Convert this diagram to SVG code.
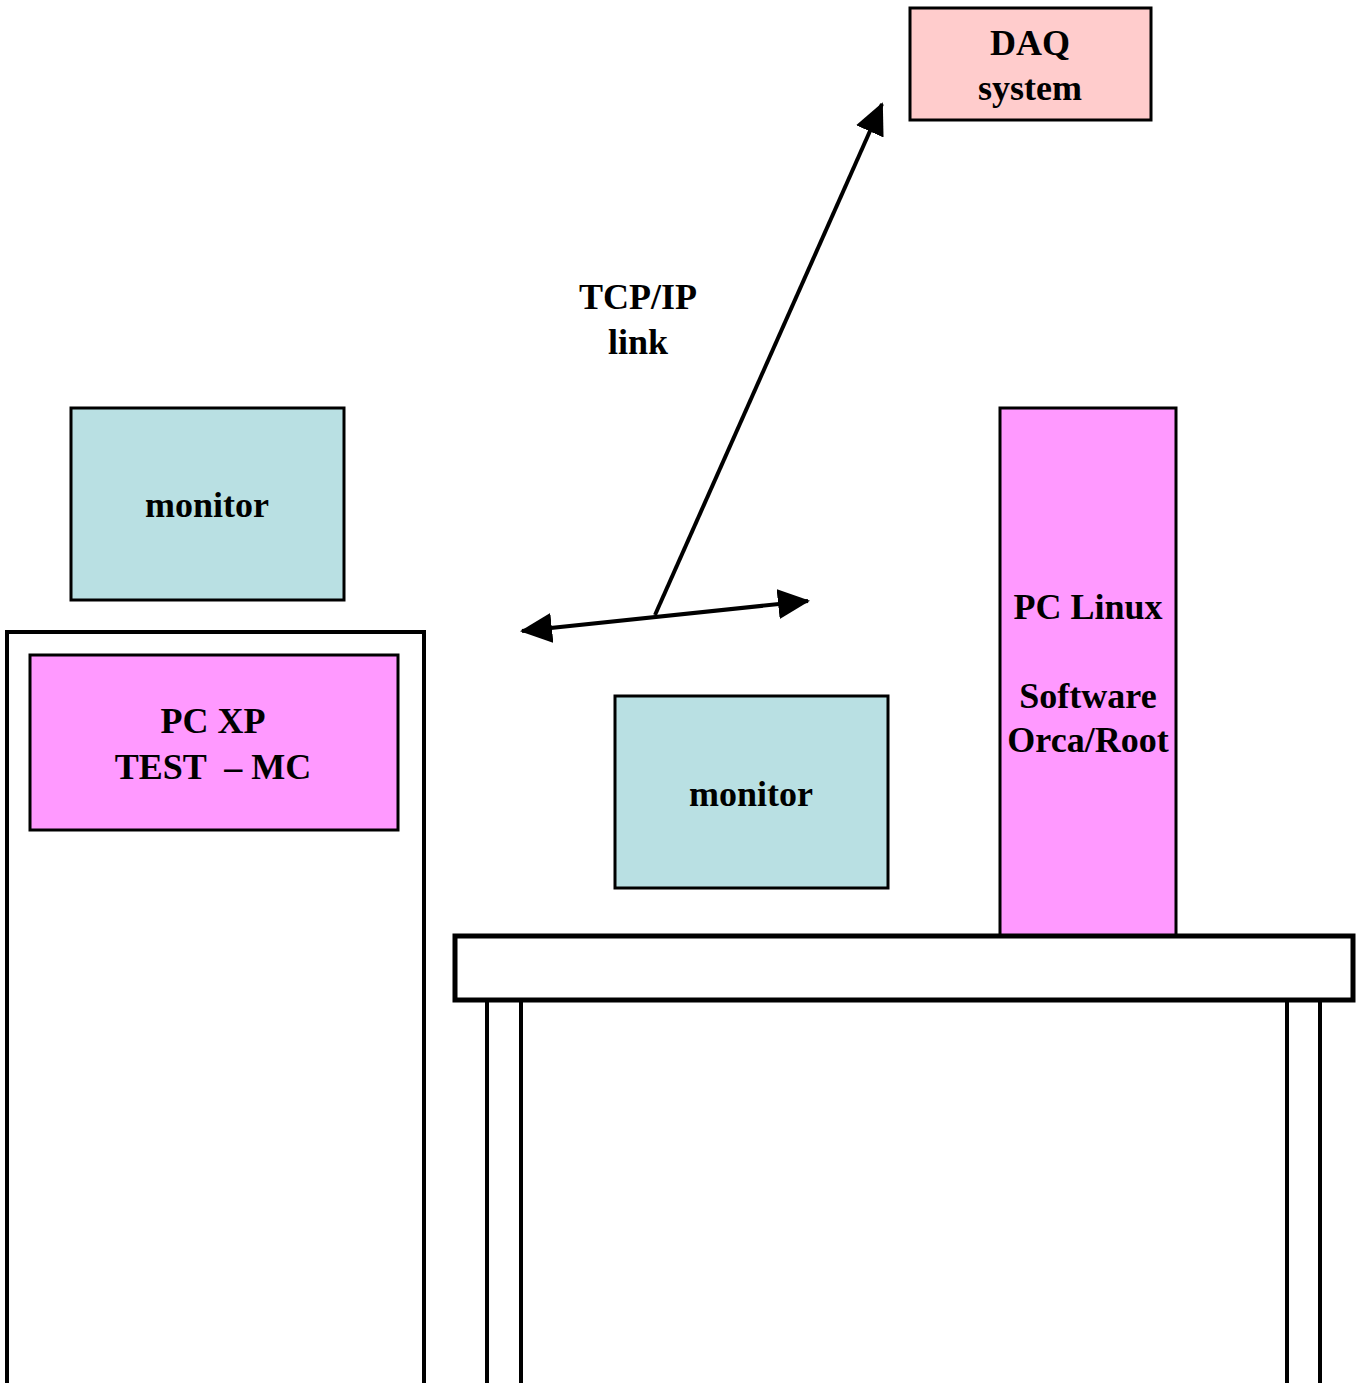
<svg xmlns="http://www.w3.org/2000/svg" width="1364" height="1383" viewBox="0 0 1364 1383">
<style>
.box{stroke:#000;stroke-width:3}
.mon{fill:#B9E0E3}
.pc{fill:#FF99FF}
.daq{fill:#FFCCCC}
.frame{fill:#fff;stroke:#000;stroke-width:4}
text{font-family:"Liberation Serif","Times New Roman",serif;font-weight:bold;font-size:36px;text-anchor:middle;fill:#000}
.conn{stroke:#000;stroke-width:4;fill:none}
</style>
<defs>
<marker id="ah" viewBox="0 0 32 30" refX="30" refY="15" markerWidth="32" markerHeight="30" markerUnits="userSpaceOnUse" orient="auto-start-reverse">
<path d="M0,0 L32,15 L0,30 Z" fill="#000"/>
</marker>
</defs>
<rect width="1364" height="1383" fill="#fff"/>
<g id="pcxp-cabinet"><rect class="frame" x="7" y="632" width="417" height="760"/></g>
<g id="pcxp"><rect class="box pc" x="30" y="655" width="368" height="175"/><text x="213" y="733">PC XP</text><text x="213" y="779" xml:space="preserve">TEST  – MC</text></g>
<g id="monitor1"><rect class="box mon" x="71" y="408" width="273" height="192"/><text x="207" y="517">monitor</text></g>
<g id="daq"><rect class="box daq" x="910" y="8" width="241" height="112"/><text x="1030" y="55">DAQ</text><text x="1030" y="100">system</text></g>
<g id="monitor2"><rect class="box mon" x="615" y="696" width="273" height="192"/><text x="751" y="806">monitor</text></g>
<g id="pclinux"><rect class="box pc" x="1000" y="408" width="176" height="530"/><text x="1088" y="619">PC Linux</text><text x="1088" y="708">Software</text><text x="1088" y="752">Orca/Root</text></g>
<g id="table">
<rect class="frame" x="487" y="1000" width="34" height="392"/>
<rect class="frame" x="1287" y="1000" width="33" height="392"/>
<rect x="455" y="936" width="898" height="64" fill="#fff" stroke="#000" stroke-width="5"/>
</g>
<g id="connectors">
<line class="conn" x1="522" y1="631" x2="808" y2="601" marker-start="url(#ah)" marker-end="url(#ah)"/>
<line class="conn" x1="655" y1="615" x2="882" y2="104" marker-end="url(#ah)"/>
<text x="638" y="309">TCP/IP</text>
<text x="638" y="354">link</text>
</g>
</svg>
